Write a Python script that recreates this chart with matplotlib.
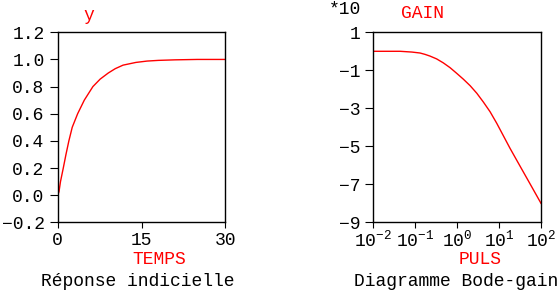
import matplotlib
matplotlib.use('Agg')
import matplotlib.pyplot as plt
from matplotlib.ticker import FixedLocator, LogLocator, NullFormatter

plt.rcParams['font.family'] = ['Liberation Mono', 'DejaVu Sans Mono']
plt.rcParams['mathtext.fontset'] = 'custom'
plt.rcParams['mathtext.rm'] = 'Liberation Mono'
plt.rcParams['mathtext.it'] = 'Liberation Mono'
plt.rcParams['mathtext.default'] = 'rm'
plt.rcParams['axes.unicode_minus'] = True

# reponse indicielle
temps = [0, 0.23, 0.5, 1.0, 1.48, 2.0, 2.6, 3.57, 4.76, 6.3, 7.6, 9.05,
         10.3, 11.7, 14, 16, 18, 21, 25, 30]
y_rep = [0.0, 0.025, 0.10, 0.20, 0.30, 0.40, 0.50, 0.60, 0.70, 0.80, 0.855, 0.90,
         0.932, 0.958, 0.978, 0.988, 0.993, 0.997, 1.0, 1.0]

# diagramme de Bode, gain en dB/10
puls = [0.01, 0.0437, 0.083, 0.13, 0.17, 0.224, 0.324, 0.468, 0.676, 0.977,
        1.41, 2.04, 2.95, 4.22, 6.10, 8.81, 13.8, 18.2, 31.6, 55.0, 95.5, 100]
gain = [0.0, 0.0, -0.04, -0.09, -0.16, -0.25, -0.40, -0.61, -0.86, -1.16,
        -1.47, -1.81, -2.21, -2.67, -3.18, -3.79, -4.6, -5.1, -6.04, -6.98, -7.92, -8.0]

rouge = '#ff0000'
fs = 13

fig = plt.figure(figsize=(5.58, 2.99), dpi=100)

# ---- graphe de gauche
ax1 = fig.add_axes([0.1034, 0.2565, 0.3004, 0.6355])
ax1.plot(temps, y_rep, color=rouge, lw=1.0)
ax1.set_xlim(0, 30)
ax1.set_ylim(-0.2, 1.2)
ax1.set_xticks([0, 15, 30])
ax1.set_yticks([-0.2, 0.0, 0.2, 0.4, 0.6, 0.8, 1.0, 1.2])
ax1.set_yticklabels(['\u22120.2', '0.0', '0.2', '0.4', '0.6', '0.8', '1.0', '1.2'])
ax1.tick_params(axis='x', direction='out', length=4.5, width=0.8, pad=2.5, labelsize=fs)
ax1.tick_params(axis='y', direction='out', length=6, width=0.8, pad=3.5, labelsize=fs)

# ---- graphe de droite
ax2 = fig.add_axes([0.669, 0.2565, 0.3005, 0.6355])
ax2.plot(puls, gain, color=rouge, lw=1.0)
ax2.set_xscale('log')
ax2.set_xlim(0.01, 100)
ax2.set_ylim(-9, 1)
ax2.xaxis.set_major_locator(FixedLocator([0.01, 0.1, 1, 10, 100]))
ax2.set_xticklabels(['10$^{-2}$', '10$^{-1}$', '10$^{0}$', '10$^{1}$', '10$^{2}$'])
ax2.xaxis.set_minor_locator(LogLocator(base=10, subs=range(2, 10)))
ax2.xaxis.set_minor_formatter(NullFormatter())
ax2.set_yticks([1, -1, -3, -5, -7, -9])
ax2.set_yticklabels(['1', '\u22121', '\u22123', '\u22125', '\u22127', '\u22129'])
ax2.tick_params(axis='x', which='major', direction='out', length=4.5, width=0.8, pad=1, labelsize=fs)
ax2.tick_params(axis='x', which='minor', direction='out', length=2.5, width=0.8)
ax2.tick_params(axis='y', direction='out', length=6, width=0.8, pad=3.5, labelsize=fs)

for ax in (ax1, ax2):
    for s in ax.spines.values():
        s.set_linewidth(1.0)

# textes
W, H = 558, 299
def txt(x, y, s, c='black'):
    fig.text(x / W, 1 - y / H, s, color=c, fontsize=fs, ha='center', va='center')

txt(89, 16, 'y', rouge)
txt(159, 259, 'TEMPS', rouge)
txt(138, 281, 'Réponse indicielle')
txt(345, 9, '*10')
txt(422, 14, 'GAIN', rouge)
txt(480, 259, 'PULS', rouge)
txt(456, 282, 'Diagramme Bode-gain')

fig.savefig('out.png', dpi=100)
